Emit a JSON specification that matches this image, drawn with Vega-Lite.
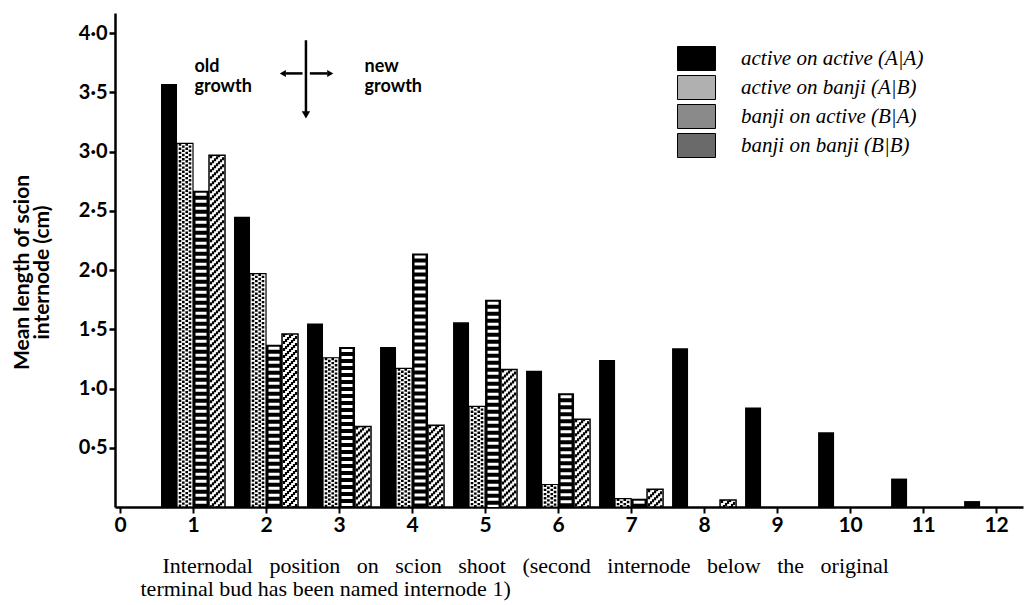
{
  "$schema": "https://vega.github.io/schema/vega-lite/v6.json",
  "width": 908,
  "height": 494,
  "autosize": {"type": "none"},
  "padding": {"left": 115, "top": 13, "right": 2, "bottom": 98},
  "background": "white",
  "config": {
    "view": {"stroke": null},
    "axis": {"grid": false, "labelColor": "black", "titleColor": "black", "domainColor": "black", "tickColor": "black"}
  },
  "data": {
    "values": [
      {"pos": 1, "series": "active on active (A|A)", "v": 3.57},
      {"pos": 1, "series": "active on banji (A|B)", "v": 3.07},
      {"pos": 1, "series": "banji on active (B|A)", "v": 2.67},
      {"pos": 1, "series": "banji on banji (B|B)", "v": 2.97},
      {"pos": 2, "series": "active on active (A|A)", "v": 2.45},
      {"pos": 2, "series": "active on banji (A|B)", "v": 1.97},
      {"pos": 2, "series": "banji on active (B|A)", "v": 1.37},
      {"pos": 2, "series": "banji on banji (B|B)", "v": 1.46},
      {"pos": 3, "series": "active on active (A|A)", "v": 1.55},
      {"pos": 3, "series": "active on banji (A|B)", "v": 1.26},
      {"pos": 3, "series": "banji on active (B|A)", "v": 1.35},
      {"pos": 3, "series": "banji on banji (B|B)", "v": 0.68},
      {"pos": 4, "series": "active on active (A|A)", "v": 1.35},
      {"pos": 4, "series": "active on banji (A|B)", "v": 1.17},
      {"pos": 4, "series": "banji on active (B|A)", "v": 2.14},
      {"pos": 4, "series": "banji on banji (B|B)", "v": 0.69},
      {"pos": 5, "series": "active on active (A|A)", "v": 1.56},
      {"pos": 5, "series": "active on banji (A|B)", "v": 0.85},
      {"pos": 5, "series": "banji on active (B|A)", "v": 1.75},
      {"pos": 5, "series": "banji on banji (B|B)", "v": 1.16},
      {"pos": 6, "series": "active on active (A|A)", "v": 1.15},
      {"pos": 6, "series": "active on banji (A|B)", "v": 0.19},
      {"pos": 6, "series": "banji on active (B|A)", "v": 0.96},
      {"pos": 6, "series": "banji on banji (B|B)", "v": 0.74},
      {"pos": 7, "series": "active on active (A|A)", "v": 1.24},
      {"pos": 7, "series": "active on banji (A|B)", "v": 0.07},
      {"pos": 7, "series": "banji on active (B|A)", "v": 0.07},
      {"pos": 7, "series": "banji on banji (B|B)", "v": 0.15},
      {"pos": 8, "series": "active on active (A|A)", "v": 1.34},
      {"pos": 8, "series": "banji on banji (B|B)", "v": 0.06},
      {"pos": 9, "series": "active on active (A|A)", "v": 0.84},
      {"pos": 10, "series": "active on active (A|A)", "v": 0.63},
      {"pos": 11, "series": "active on active (A|A)", "v": 0.24},
      {"pos": 12, "series": "active on active (A|A)", "v": 0.05}
    ]
  },
  "layer": [
    {
      "encoding": {
        "x": {
          "field": "pos", "type": "quantitative",
          "scale": {"domain": [0, 12.3], "nice": false, "zero": false},
          "axis": {
            "values": [0, 1, 2, 3, 4, 5, 6, 7, 8, 9, 10, 11, 12],
            "format": "d",
            "labelFont": "Lato", "labelFontWeight": "bold", "labelFontSize": 21,
            "labelPadding": 1, "tickSize": 6, "tickWidth": 2, "domainWidth": 2.5,
            "title": ["\u200b\u00a0\u00a0\u00a0\u00a0Internodal \u2002position \u2002on \u2002scion \u2002shoot \u2002(second \u2002internode \u2002below \u2002the \u2002original", "terminal bud has been named internode 1)"],
            "titleFont": "Liberation Serif", "titleFontWeight": "normal", "titleFontSize": 22,
            "titleLineHeight": 23, "titleAlign": "left", "titleAnchor": "start",
            "titleX": 25, "titleY": 65, "titleBaseline": "alphabetic"
          }
        },
        "y": {
          "field": "v", "type": "quantitative",
          "scale": {"domain": [0, 4.17], "nice": false},
          "axis": {
            "values": [0.5, 1, 1.5, 2, 2.5, 3, 3.5, 4],
            "labelExpr": "replace(format(datum.value, '.1f'), '.', '·')",
            "labelFont": "Lato", "labelFontWeight": "bold", "labelFontSize": 20,
            "labelPadding": 2, "tickSize": 6, "tickWidth": 2.5, "domainWidth": 2.5,
            "title": ["Mean length of scion", "internode (cm)"],
            "titleFont": "Lato", "titleFontWeight": "bold", "titleFontSize": 21,
            "titleLineHeight": 20, "titlePadding": 26, "titleY": 259
          }
        }
      },
      "layer": [
        {
          "transform": [{"filter": "datum.series == 'active on active (A|A)'"}],
          "mark": {"type": "bar", "width": 16, "xOffset": -24},
          "encoding": {
            "fill": {
              "field": "series", "type": "nominal",
              "scale": {
                "domain": ["active on active (A|A)", "active on banji (A|B)", "banji on active (B|A)", "banji on banji (B|B)"],
                "range": ["#000000", "#b0b0b0", "#8a8a8a", "#6a6a6a"]
              },
              "legend": {
                "title": null, "orient": "none", "legendX": 571, "legendY": 35,
                "padding": 0, "rowPadding": 0,
                "symbolType": "M-2.375,-1.5H2.375V1.5H-2.375Z", "symbolSize": 256,
                "symbolStrokeColor": "black", "symbolStrokeWidth": 1, "symbolOpacity": 1,
                "labelFont": "Liberation Serif", "labelFontStyle": "italic", "labelFontSize": 21,
                "labelColor": "black", "labelOffset": 34, "labelLimit": 400
              }
            }
          }
        },
        {
          "transform": [{"filter": "datum.series == 'active on banji (A|B)'"}],
          "mark": {"type": "bar", "width": 16, "xOffset": -8, "fill": "white", "stroke": "black", "strokeWidth": 1.2}
        },
        {
          "transform": [{"filter": "datum.series == 'active on banji (A|B)'"}],
          "mark": {"type": "rule", "xOffset": -13, "strokeWidth": 2.6, "strokeDash": [2.4, 1.8], "strokeDashOffset": 0, "color": "black"},
          "encoding": {"y2": {"datum": 0}}
        },
        {
          "transform": [{"filter": "datum.series == 'active on banji (A|B)'"}],
          "mark": {"type": "rule", "xOffset": -9.7, "strokeWidth": 2.6, "strokeDash": [2.4, 1.8], "strokeDashOffset": 2.1, "color": "black"},
          "encoding": {"y2": {"datum": 0}}
        },
        {
          "transform": [{"filter": "datum.series == 'active on banji (A|B)'"}],
          "mark": {"type": "rule", "xOffset": -6.3, "strokeWidth": 2.6, "strokeDash": [2.4, 1.8], "strokeDashOffset": 0, "color": "black"},
          "encoding": {"y2": {"datum": 0}}
        },
        {
          "transform": [{"filter": "datum.series == 'active on banji (A|B)'"}],
          "mark": {"type": "rule", "xOffset": -3, "strokeWidth": 2.6, "strokeDash": [2.4, 1.8], "strokeDashOffset": 2.1, "color": "black"},
          "encoding": {"y2": {"datum": 0}}
        },
        {
          "transform": [{"filter": "datum.series == 'banji on active (B|A)'"}],
          "mark": {"type": "bar", "width": 16, "xOffset": 8, "fill": "black"}
        },
        {
          "transform": [{"filter": "datum.series == 'banji on active (B|A)'"}],
          "mark": {"type": "rule", "xOffset": 8, "strokeWidth": 11, "strokeDash": [3, 4], "strokeDashOffset": 5, "color": "white"},
          "encoding": {"y2": {"datum": 0}}
        },
        {
          "transform": [{"filter": "datum.series == 'banji on banji (B|B)'"}],
          "mark": {"type": "bar", "width": 16, "xOffset": 24, "fill": "white", "stroke": "black", "strokeWidth": 1.5}
        },
        {
          "transform": [{"filter": "datum.series == 'banji on banji (B|B)'"}],
          "mark": {"type": "rule", "xOffset": 18, "strokeWidth": 2.2, "strokeDash": [3, 4], "strokeDashOffset": 0, "color": "black"},
          "encoding": {"y2": {"datum": 0}}
        },
        {
          "transform": [{"filter": "datum.series == 'banji on banji (B|B)'"}],
          "mark": {"type": "rule", "xOffset": 20, "strokeWidth": 2.2, "strokeDash": [3, 4], "strokeDashOffset": 2, "color": "black"},
          "encoding": {"y2": {"datum": 0}}
        },
        {
          "transform": [{"filter": "datum.series == 'banji on banji (B|B)'"}],
          "mark": {"type": "rule", "xOffset": 22, "strokeWidth": 2.2, "strokeDash": [3, 4], "strokeDashOffset": 4, "color": "black"},
          "encoding": {"y2": {"datum": 0}}
        },
        {
          "transform": [{"filter": "datum.series == 'banji on banji (B|B)'"}],
          "mark": {"type": "rule", "xOffset": 24, "strokeWidth": 2.2, "strokeDash": [3, 4], "strokeDashOffset": 6, "color": "black"},
          "encoding": {"y2": {"datum": 0}}
        },
        {
          "transform": [{"filter": "datum.series == 'banji on banji (B|B)'"}],
          "mark": {"type": "rule", "xOffset": 26, "strokeWidth": 2.2, "strokeDash": [3, 4], "strokeDashOffset": 1, "color": "black"},
          "encoding": {"y2": {"datum": 0}}
        },
        {
          "transform": [{"filter": "datum.series == 'banji on banji (B|B)'"}],
          "mark": {"type": "rule", "xOffset": 28, "strokeWidth": 2.2, "strokeDash": [3, 4], "strokeDashOffset": 3, "color": "black"},
          "encoding": {"y2": {"datum": 0}}
        },
        {
          "transform": [{"filter": "datum.series == 'banji on banji (B|B)'"}],
          "mark": {"type": "rule", "xOffset": 30, "strokeWidth": 2.2, "strokeDash": [3, 4], "strokeDashOffset": 5, "color": "black"},
          "encoding": {"y2": {"datum": 0}}
        }
      ]
    },
    {
      "data": {"values": [{"label": "old"}]},
      "mark": {"type": "text", "text": ["old", "growth"], "font": "Lato", "fontWeight": "bold", "fontSize": 18, "lineHeight": 20, "align": "left", "baseline": "alphabetic", "color": "black"},
      "encoding": {"x": {"datum": 1.02, "type": "quantitative"}, "y": {"datum": 3.67, "type": "quantitative"}}
    },
    {
      "data": {"values": [{"label": "new"}]},
      "mark": {"type": "text", "text": ["new", "growth"], "font": "Lato", "fontWeight": "bold", "fontSize": 18, "lineHeight": 20, "align": "left", "baseline": "alphabetic", "color": "black"},
      "encoding": {"x": {"datum": 3.35, "type": "quantitative"}, "y": {"datum": 3.67, "type": "quantitative"}}
    },
    {
      "data": {"values": [{"label": "arrow"}]},
      "mark": {"type": "rule", "strokeWidth": 2.5, "color": "black"},
      "encoding": {"x": {"datum": 2.547, "type": "quantitative"}, "y": {"datum": 3.94, "type": "quantitative"}, "y2": {"datum": 3.33}}
    },
    {
      "data": {"values": [{"label": "arrow"}]},
      "mark": {"type": "rule", "strokeWidth": 2.5, "color": "black"},
      "encoding": {"x": {"datum": 2.27, "type": "quantitative"}, "x2": {"datum": 2.5}, "y": {"datum": 3.66, "type": "quantitative"}}
    },
    {
      "data": {"values": [{"label": "arrow"}]},
      "mark": {"type": "rule", "strokeWidth": 2.5, "color": "black"},
      "encoding": {"x": {"datum": 2.6, "type": "quantitative"}, "x2": {"datum": 2.84}, "y": {"datum": 3.66, "type": "quantitative"}}
    },
    {
      "data": {"values": [{"label": "arrow"}]},
      "mark": {"type": "point", "shape": "triangle-down", "filled": true, "size": 70, "color": "black", "opacity": 1},
      "encoding": {"x": {"datum": 2.547, "type": "quantitative"}, "y": {"datum": 3.31, "type": "quantitative"}}
    },
    {
      "data": {"values": [{"label": "arrow"}]},
      "mark": {"type": "point", "shape": "triangle-left", "filled": true, "size": 50, "color": "black", "opacity": 1},
      "encoding": {"x": {"datum": 2.23, "type": "quantitative"}, "y": {"datum": 3.66, "type": "quantitative"}}
    },
    {
      "data": {"values": [{"label": "arrow"}]},
      "mark": {"type": "point", "shape": "triangle-right", "filled": true, "size": 50, "color": "black", "opacity": 1},
      "encoding": {"x": {"datum": 2.88, "type": "quantitative"}, "y": {"datum": 3.66, "type": "quantitative"}}
    }
  ]
}
